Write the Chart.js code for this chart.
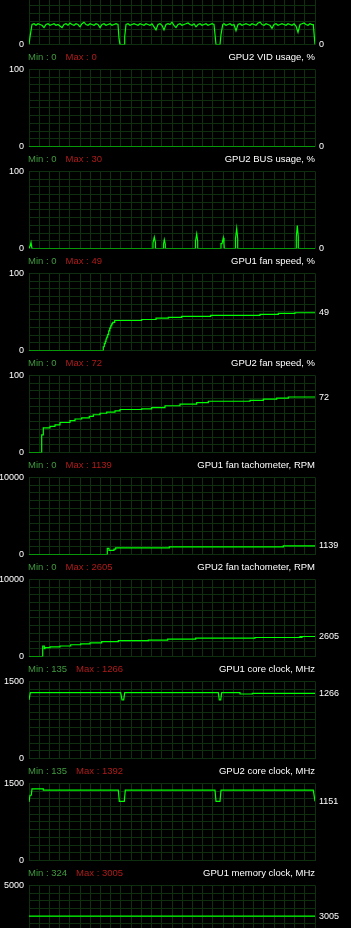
<!DOCTYPE html>
<html>
<head>
<meta charset="utf-8">
<script src="https://cdn.jsdelivr.net/npm/chart.js@4.4.1/dist/chart.umd.min.js"></script>
<style>
  html, body { margin: 0; padding: 0; background: #000; width: 351px; height: 928px; overflow: hidden; }
  canvas { position: absolute; left: 0; }
  .hdr { position: absolute; left: 28px; width: 287px; height: 12px; line-height: 12px;
         font: 9.5px 'Liberation Sans', Arial, sans-serif; white-space: nowrap; }
  .hdr .mn { color: #3f9b3f; }
  .hdr .mx { color: #b01b1b; margin-left: 9px; }
  .hdr .tt { position: absolute; right: 0; top: 0; color: #fff; }
</style>
</head>
<body>
<script>
// --- data (time axis = samples, 0..286) ---
const panelTitles = ['GPU2 usage, %', 'GPU2 VID usage, %', 'GPU2 BUS usage, %', 'GPU1 fan speed, %',
  'GPU2 fan speed, %', 'GPU1 fan tachometer, RPM', 'GPU2 fan tachometer, RPM',
  'GPU1 core clock, MHz', 'GPU2 core clock, MHz', 'GPU1 memory clock, MHz'];
const minLabels = ['0', '0', '0', '0', '0', '0', '0', '135', '135', '324'];
const maxLabels = ['0', '0', '30', '49', '72', '1139', '2605', '1266', '1392', '3005'];
const axisMax = [100, 100, 100, 100, 100, 10000, 10000, 1500, 1500, 5000];
const isStepped = [false, false, false, true, true, true, true, false, false, true];

// noisy usage, sampled every 2 ticks
const usageSeg1 = [26, 27, 25, 27, 26, 25, 22, 26, 27, 25, 26, 27, 25, 26, 24, 22, 26, 27, 25, 28, 26, 25,
  27, 26, 23, 27, 29, 26, 25, 27, 26, 25, 27, 26, 22, 26, 27, 25, 26, 27, 25, 26, 27, 26];
const usageSeg2 = [26, 27, 25, 26, 27, 26, 25, 27, 26, 25, 27, 26, 25, 27, 23, 19, 26, 27, 25, 19, 26, 27,
  26, 29, 25, 22, 26, 27, 25, 26, 27, 28, 26, 25, 27, 23, 26, 27, 25, 26, 27, 25, 26, 27, 26];
const usageSeg3 = [27, 25, 26, 27, 25, 26, 18, 26, 27, 25, 26, 27, 26, 25, 27, 26, 25, 28, 29, 26, 25, 27,
  26, 25, 21, 26, 27, 25, 26, 27, 26, 25, 27, 26, 25, 27, 24, 16, 26, 27, 28, 26, 25, 27, 26];
const usageStarts = [3, 97, 195];
const usageGaps = [
  [[0, 0], [1, 10]],
  [[90, 8], [91, 0], [95, 0], [95.7, 10]],
  [[186, 13], [187, 0], [191, 0], [192, 13], [193.7, 26]],
  [[284.3, 26], [286, 0]]
];

const vidUsage = [[0, 0], [286, 0]];
const busUsage = [[0, 0], [1, 3], [2, 8], [3, 0],
  [124, 0], [124, 7.5], [125.3, 15], [126.5, 7.5], [126.5, 0],
  [134.5, 0], [134.5, 5.5], [135.3, 11.5], [136.3, 5.5], [136.3, 0],
  [166.5, 0], [166.5, 9.5], [167.7, 19], [168.7, 9.5], [168.7, 0],
  [192, 0], [192, 6.5], [193, 6.5], [194.3, 14], [195, 6.5], [195.3, 0],
  [206.5, 0], [206.5, 13], [207.7, 26], [208.7, 13], [208.7, 0],
  [267.3, 0], [267.3, 15], [268.3, 30], [269.3, 15], [269.3, 0], [286, 0]];
const fan1Speed = [[0, 0], [72.7, 0], [74.3, 5], [75.3, 9], [76.3, 12], [77, 15], [77.7, 17.5], [78.7, 21],
  [79.7, 25.5], [80.7, 29], [81.7, 32], [82.7, 34.5], [83.7, 36.5], [85.7, 39], [112.7, 40.3], [127, 42],
  [139.3, 43], [152.7, 44.4], [181.7, 45.6], [231, 46.8], [249.3, 48.3], [266, 49], [286, 49]];
const fan2Speed = [[0, 0], [12.3, 0], [12.7, 23], [14.3, 32], [21, 34], [26, 36], [31, 39], [41, 41.5],
  [46, 43.5], [52.7, 45], [60.3, 47], [64.3, 49], [71, 51], [77.7, 52.5], [86, 54], [91, 55.8], [112.7, 56.6],
  [122.7, 58.3], [136, 60.7], [151, 62.8], [167.7, 64.8], [179.3, 66.5], [221, 67.7], [234.3, 69.3],
  [247.7, 70.6], [259.3, 72], [286, 72]];
const fan1Tach = [[0, 0], [78.3, 800], [80, 560], [83.3, 560], [85, 720], [86.7, 880], [140.3, 1000],
  [254.3, 1139], [286, 1139]];
const fan2Tach = [[0, 0], [13.3, 0], [13.7, 1370], [15.3, 1045], [16, 1165], [21, 1247], [31, 1370],
  [41.7, 1534], [51.7, 1656], [61, 1779], [72.7, 1943], [89.3, 2065], [119.3, 2147], [138.7, 2270],
  [166.7, 2393], [226, 2474], [271, 2605], [272, 2480], [273, 2605], [286, 2605]];
const core1Clock = [[0, 1140], [0.5, 1140], [1.3, 1280], [91.7, 1280], [93, 1140], [94.7, 1140], [95.7, 1280],
  [189.3, 1280], [190.3, 1140], [191.7, 1140], [192.7, 1280], [211, 1280], [211, 1255], [223.3, 1255],
  [223.3, 1266], [286, 1266]];
const core2Clock = [[0, 1140], [0.7, 1140], [1, 1270], [2.3, 1270], [3, 1392], [14.3, 1392], [14.3, 1370],
  [89.3, 1370], [90.3, 1150], [95.3, 1150], [96.3, 1370], [186, 1370], [187, 1150], [191, 1150],
  [192, 1370], [284.3, 1370], [286, 1151]];
const mem1Clock = [[0, 3005], [286, 3005]];

// --- build the noisy usage trace ---
function buildUsage() {
  const pts = usageGaps[0].slice();
  [usageSeg1, usageSeg2, usageSeg3].forEach((seg, k) => {
    seg.forEach((v, i) => pts.push([usageStarts[k] + i * 2, v]));
    pts.push(...usageGaps[k + 1]);
  });
  return pts;
}

const allSeries = [buildUsage(), vidUsage, busUsage, fan1Speed, fan2Speed, fan1Tach, fan2Tach,
  core1Clock, core2Clock, mem1Clock];

// --- layout / style ---
const FONT = "'Liberation Sans', Arial, sans-serif";
const GRID = '#0f300f';
const LINE = '#00ff00';
const PLOT_H = 81.5;
const PAD_T = 8;
const CANVAS_H = 98;
const X_MAX = 286;
const X_COLS = 28;

const lastValuePlugin = {
  id: 'lastValue',
  afterDraw(chart) {
    const pts = chart.data.datasets[0].data;
    const last = pts[pts.length - 1];
    const c = chart.ctx;
    c.save();
    c.font = '9px ' + FONT;
    c.fillStyle = '#fff';
    c.textAlign = 'left';
    c.textBaseline = 'middle';
    c.fillText(String(last.y), chart.chartArea.right + 4, chart.scales.y.getPixelForValue(last.y));
    c.restore();
  }
};

function makePanel(i) {
  const plotTop = 67 + 102 * (i - 1);
  const max = axisMax[i];

  const hdr = document.createElement('div');
  hdr.className = 'hdr';
  hdr.style.top = (plotTop - 16.5) + 'px';
  hdr.innerHTML = `<span class="mn">Min : ${minLabels[i]}</span><span class="mx">Max : ${maxLabels[i]}</span>` +
    `<span class="tt">${panelTitles[i]}</span>`;
  document.body.appendChild(hdr);

  const cv = document.createElement('canvas');
  cv.width = 351; cv.height = CANVAS_H;
  cv.style.top = (plotTop - PAD_T) + 'px';
  document.body.appendChild(cv);

  new Chart(cv, {
    type: 'line',
    data: {
      datasets: [{
        data: allSeries[i].map(p => ({ x: p[0], y: p[1] })),
        borderColor: LINE, borderWidth: 1.2, pointRadius: 0,
        stepped: isStepped[i], tension: 0, fill: false
      }]
    },
    options: {
      responsive: false, animation: false, events: [],
      layout: { padding: { top: PAD_T, bottom: CANVAS_H - PAD_T - PLOT_H, left: 0, right: 351 - 315 } },
      plugins: { legend: { display: false }, tooltip: { enabled: false } },
      scales: {
        x: {
          type: 'linear', min: 0, max: X_MAX,
          ticks: { display: false },
          grid: { color: GRID, drawTicks: false },
          border: { display: false },
          afterBuildTicks: s => { s.ticks = Array.from({ length: X_COLS + 1 }, (_, k) => ({ value: k * X_MAX / X_COLS })); }
        },
        y: {
          min: 0, max: max,
          ticks: {
            stepSize: max / 10, autoSkip: false, padding: 5, color: '#fff',
            font: { family: FONT, size: 9 },
            callback: v => (v === 0 || v === max) ? String(v) : ''
          },
          grid: { color: GRID, drawTicks: false },
          border: { display: false },
          afterFit: s => { s.width = 29; }
        }
      }
    },
    plugins: [lastValuePlugin]
  });
}

for (let i = 0; i < allSeries.length; i++) makePanel(i);
</script>
</body>
</html>
